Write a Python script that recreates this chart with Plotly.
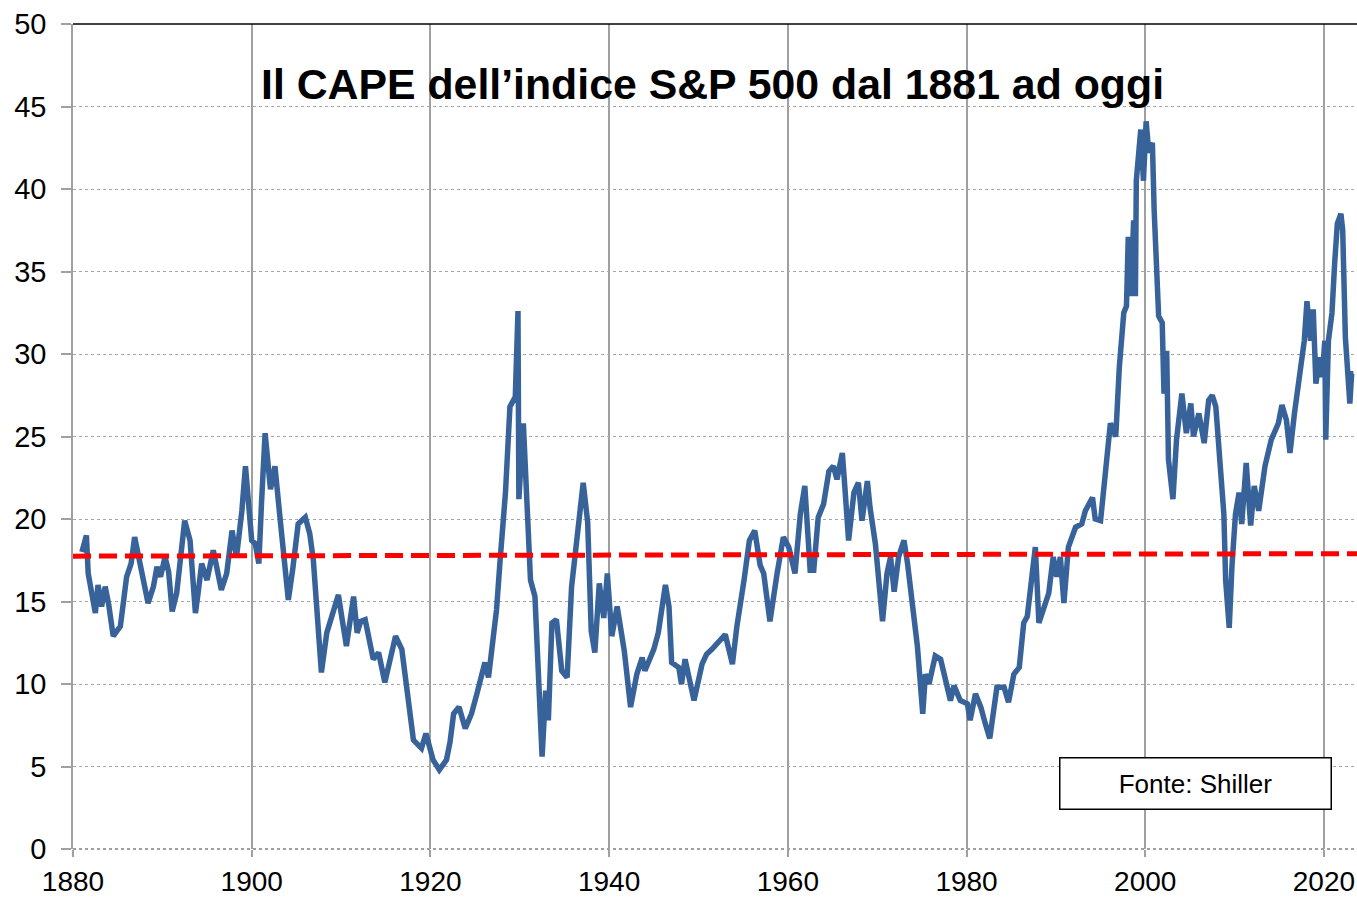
import plotly.graph_objects as go

years = [
    1881.0, 1881.15, 1881.5, 1881.7, 1882.1, 1882.5, 1882.8, 1883.2, 1883.6, 1884.0,
    1884.5, 1884.9, 1885.3, 1885.7, 1886.0, 1886.5, 1886.9, 1887.5, 1888.0, 1888.4,
    1889.0, 1889.4, 1889.8, 1890.3, 1890.7, 1891.1, 1891.6, 1892.0, 1892.5, 1893.1,
    1893.7, 1894.0, 1894.4, 1895.0, 1895.7, 1896.3, 1896.6, 1897.2, 1897.8, 1898.3,
    1898.9, 1899.3, 1899.7, 1900.0, 1900.4, 1900.8, 1901.1, 1901.5, 1902.1, 1902.6,
    1903.2, 1903.6, 1904.1, 1904.6, 1905.2, 1906.0, 1906.5, 1906.9, 1907.3, 1907.8,
    1908.4, 1909.1, 1909.7, 1910.1, 1910.6, 1911.0, 1911.4, 1911.8, 1912.2, 1912.7,
    1913.2, 1913.6, 1914.2, 1914.9, 1915.5, 1916.1, 1916.8, 1917.5, 1918.1, 1919.0,
    1919.5, 1920.3, 1921.0, 1921.8, 1922.2, 1922.6, 1923.2, 1923.9, 1924.6, 1925.2,
    1926.1, 1926.5, 1926.9, 1927.4, 1927.8, 1928.4, 1928.9, 1929.5, 1929.8, 1929.9,
    1930.4, 1930.8, 1931.2, 1931.7, 1932.1, 1932.5, 1932.9, 1933.2, 1933.6, 1934.1,
    1934.7, 1935.3, 1935.8, 1936.4, 1937.1, 1937.6, 1938.0, 1938.4, 1938.9, 1939.4,
    1939.8, 1940.3, 1940.9, 1941.7, 1942.4, 1943.1, 1943.7, 1944.0, 1945.0, 1945.5,
    1946.3, 1946.7, 1947.0, 1947.8, 1948.1, 1948.5, 1948.9, 1949.5, 1950.4, 1950.9,
    1951.5, 1952.1, 1953.0, 1953.8, 1954.3, 1955.1, 1955.7, 1956.3, 1956.9, 1957.3,
    1958.0, 1958.8, 1959.5, 1960.1, 1960.8, 1961.4, 1961.9, 1962.5, 1962.9, 1963.4,
    1964.0, 1964.6, 1965.1, 1965.5, 1966.1, 1966.4, 1966.8, 1967.4, 1967.9, 1968.3,
    1968.9, 1969.2, 1969.8, 1970.6, 1971.1, 1971.5, 1971.9, 1972.4, 1973.0, 1973.4,
    1973.9, 1974.5, 1975.1, 1975.4, 1975.8, 1976.5, 1977.1, 1977.6, 1978.2, 1978.6,
    1979.3, 1980.1, 1980.4, 1981.0, 1981.6, 1982.1, 1982.6, 1983.4, 1984.2, 1984.7,
    1985.3, 1985.9, 1986.4, 1986.8, 1987.3, 1987.7, 1988.1, 1988.6, 1989.2, 1989.7,
    1990.1, 1990.5, 1990.9, 1991.4, 1992.2, 1992.9, 1993.3, 1994.1, 1994.4, 1995.0,
    1995.6, 1996.1, 1996.7, 1997.1, 1997.6, 1997.9, 1998.1, 1998.4, 1998.7, 1998.9,
    1999.0, 1999.5, 1999.8, 2000.1, 2000.4, 2000.8, 2001.0, 2001.3, 2001.5, 2001.9,
    2002.1, 2002.4, 2002.6, 2003.1, 2003.5, 2004.1, 2004.6, 2005.1, 2005.4, 2006.0,
    2006.6, 2007.1, 2007.5, 2007.9, 2008.4, 2008.8, 2009.0, 2009.4, 2009.7, 2010.1,
    2010.5, 2010.8, 2011.3, 2011.8, 2012.2, 2012.7, 2013.4, 2014.1, 2014.9, 2015.3,
    2015.8, 2016.2, 2016.7, 2017.3, 2017.8, 2018.1, 2018.5, 2018.8, 2019.1, 2019.5,
    2019.8, 2020.1, 2020.2, 2020.5, 2020.9, 2021.2, 2021.5, 2021.9, 2022.1, 2022.4,
    2022.6, 2022.9, 2023.1, 2023.3,
]

cape = [
    18.0, 18.3, 19.0, 16.7, 15.5, 14.3, 16.0, 14.7, 15.9, 14.8,
    12.9, 13.2, 13.5, 15.2, 16.5, 17.3, 18.9, 17.3, 16.0, 14.9,
    15.9, 17.1, 16.5, 17.7, 16.8, 14.4, 15.5, 17.5, 19.9, 18.7,
    14.3, 15.5, 17.3, 16.3, 18.1, 16.5, 15.7, 16.7, 19.3, 17.7,
    20.5, 23.2, 21.0, 18.7, 18.5, 17.3, 21.0, 25.2, 21.8, 23.2,
    19.9, 17.5, 15.1, 17.0, 19.7, 20.1, 19.1, 17.5, 13.9, 10.7,
    13.1, 14.5, 15.4, 14.0, 12.3, 13.8, 15.3, 13.1, 13.8, 13.9,
    12.5, 11.5, 11.9, 10.1, 11.5, 12.9, 12.1, 9.0, 6.6, 6.1,
    7.0, 5.4, 4.8, 5.4, 6.5, 8.2, 8.6, 7.3, 8.2, 9.4,
    11.3, 10.4, 12.5, 14.5, 17.5, 21.6, 26.8, 27.4, 32.6, 21.2,
    25.8, 21.3, 16.3, 15.3, 9.4, 5.6, 9.6, 7.8, 13.7, 13.9,
    10.8, 10.4, 15.9, 18.6, 22.2, 19.8, 13.2, 11.9, 16.1, 14.0,
    16.7, 12.9, 14.7, 12.0, 8.6, 10.6, 11.6, 10.8, 12.1, 13.1,
    16.0, 14.7, 11.3, 11.0, 10.0, 11.5, 10.4, 9.0, 11.2, 11.8,
    12.1, 12.5, 13.0, 11.2, 13.5, 16.3, 18.7, 19.3, 17.2, 16.7,
    13.8, 16.7, 18.9, 18.3, 16.7, 20.3, 22.0, 16.9, 16.9, 20.1,
    20.9, 22.9, 23.2, 22.4, 24.0, 21.8, 18.7, 21.6, 22.2, 19.9,
    22.3, 20.7, 18.5, 13.8, 16.7, 17.7, 15.6, 17.7, 18.7, 17.3,
    15.3, 12.3, 8.2, 10.6, 10.0, 11.7, 11.5, 10.4, 9.0, 9.9,
    9.0, 8.8, 7.8, 9.4, 8.6, 7.6, 6.7, 9.8, 9.8, 8.9,
    10.6, 11.0, 13.7, 14.1, 16.5, 18.3, 13.7, 14.5, 15.5, 17.7,
    16.5, 17.7, 14.9, 18.3, 19.5, 19.7, 20.5, 21.3, 20.0, 19.9,
    23.2, 25.8, 25.0, 29.2, 32.5, 32.9, 37.1, 33.5, 38.1, 33.5,
    40.5, 43.6, 40.5, 44.1, 42.2, 42.8, 38.7, 35.7, 32.3, 31.9,
    27.6, 30.2, 23.6, 21.2, 24.8, 27.6, 25.2, 27.0, 25.0, 26.4,
    24.6, 27.2, 27.5, 26.8, 23.6, 20.3, 16.3, 13.4, 17.1, 20.3,
    21.6, 19.7, 23.4, 19.6, 22.0, 20.5, 23.2, 24.8, 25.8, 26.9,
    26.0, 24.0, 26.4, 29.0, 30.8, 33.2, 30.8, 32.7, 28.2, 29.8,
    28.6, 30.8, 24.8, 30.8, 32.5, 35.5, 37.9, 38.5, 37.5, 31.0,
    28.8, 27.0, 28.8, 28.8,
]

mean_years = [1880.0, 2023.7]
mean_values = [17.75, 17.9]

x_ticks = [1880, 1900, 1920, 1940, 1960, 1980, 2000, 2020]
y_ticks = [0, 5, 10, 15, 20, 25, 30, 35, 40, 45, 50]

title_text = "Il CAPE dell\u2019indice S&P 500 dal 1881 ad oggi"
source_text = "Fonte: Shiller"

FONT = "Liberation Sans, Arial, sans-serif"

fig = go.Figure()
fig.add_trace(go.Scatter(
    x=years, y=cape, mode="lines",
    line=dict(color="#38639A", width=5.5), showlegend=False, hoverinfo="skip",
))
fig.add_trace(go.Scatter(
    x=mean_years, y=mean_values, mode="lines",
    line=dict(color="#FF0000", width=5, dash="18px,8px"), showlegend=False,
    hoverinfo="skip",
))

fig.update_layout(
    width=1357, height=897,
    margin=dict(l=73, r=0, t=24, b=48),
    paper_bgcolor="white", plot_bgcolor="white",
    font=dict(family=FONT, color="black", size=26),
    xaxis=dict(
        range=[1880, 2023.7], tickvals=x_ticks, ticktext=[str(v) for v in x_ticks],
        showgrid=True, gridcolor="#A0A0A0", gridwidth=1.5,
        ticks="outside", ticklen=7, tickcolor="#A0A0A0", tickwidth=1.5,
        ticklabelstandoff=0, automargin=False,
        tickfont=dict(size=28, family=FONT, color="black"),
        zeroline=False, showline=False,
    ),
    yaxis=dict(
        range=[0, 50], tickvals=y_ticks, ticktext=[str(v) for v in y_ticks],
        showgrid=True, gridcolor="#A6A6A6", gridwidth=1, griddash="dot",
        ticks="outside", ticklen=10, tickcolor="#A0A0A0", tickwidth=1.5,
        ticklabelstandoff=9, automargin=False,
        tickfont=dict(size=29, family=FONT, color="black"),
        zeroline=False, showline=True, linecolor="#A0A0A0", linewidth=1.5,
    ),
    shapes=[
        dict(type="line", xref="paper", yref="paper", x0=0, x1=1, y0=1, y1=1,
             line=dict(color="black", width=1.5)),
        dict(type="line", xref="paper", yref="paper", x0=0, x1=1, y0=0, y1=0,
             line=dict(color="#808080", width=1.5, dash="dot"), layer="below"),
    ],
    annotations=[
        dict(text="<b>" + title_text + "</b>", xref="paper", yref="paper",
             x=0.4977, y=0.927, xanchor="center", yanchor="middle", showarrow=False,
             font=dict(size=42.8, family=FONT, color="black")),
        dict(text=source_text, xref="paper", yref="paper",
             x=0.8746, y=0.0788, xanchor="center", yanchor="middle", showarrow=False,
             width=268, height=48, bgcolor="white", bordercolor="black",
             borderwidth=1.5, borderpad=1,
             font=dict(size=26, family=FONT, color="black")),
    ],
)

fig.write_html(
    "out.html",
    config={"displayModeBar": False},
    post_script="document.body.style.margin='0';document.body.style.overflow='hidden';",
)
